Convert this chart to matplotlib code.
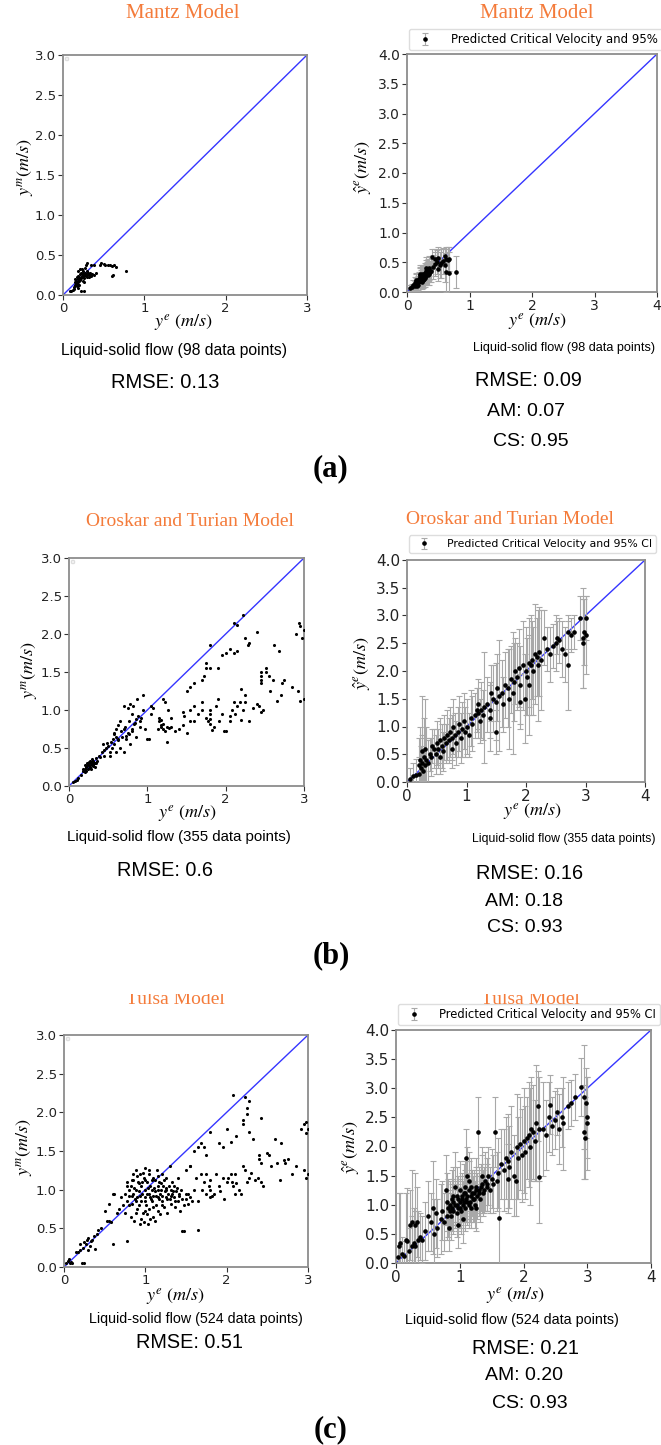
import numpy as np
import matplotlib
matplotlib.use("Agg")
import matplotlib.pyplot as plt
from matplotlib.patches import Rectangle

plt.rcParams["mathtext.fontset"] = "stix"

# ---- (a) Mantz model: measured vs model (98 data points) ----
mantz_meas = [
    (0.08, 0.05), (0.10, 0.05), (0.12, 0.06), (0.22, 0.05), (0.26, 0.05),
    (0.14, 0.10), (0.15, 0.12), (0.16, 0.14), (0.17, 0.15), (0.18, 0.13),
    (0.16, 0.18), (0.15, 0.20), (0.17, 0.22), (0.18, 0.24), (0.19, 0.20),
    (0.20, 0.17), (0.21, 0.19), (0.20, 0.22), (0.22, 0.21), (0.23, 0.24),
    (0.24, 0.22), (0.25, 0.26), (0.26, 0.24), (0.27, 0.27), (0.28, 0.25),
    (0.29, 0.23), (0.30, 0.26), (0.31, 0.28), (0.32, 0.25), (0.33, 0.27),
    (0.34, 0.24), (0.36, 0.26), (0.38, 0.25), (0.40, 0.27), (0.19, 0.30),
    (0.21, 0.32), (0.23, 0.33), (0.25, 0.30), (0.27, 0.34), (0.22, 0.28),
    (0.24, 0.18), (0.26, 0.16), (0.20, 0.12), (0.18, 0.09), (0.28, 0.38),
    (0.30, 0.40), (0.34, 0.37), (0.38, 0.38), (0.45, 0.38), (0.47, 0.40),
    (0.50, 0.39), (0.52, 0.37), (0.55, 0.38), (0.58, 0.37), (0.60, 0.36),
    (0.63, 0.38), (0.65, 0.35), (0.62, 0.25), (0.60, 0.24), (0.78, 0.30),
    (0.15, 0.16), (0.17, 0.11), (0.21, 0.26), (0.29, 0.30), (0.32, 0.22),
    (0.24, 0.27), (0.26, 0.21), (0.19, 0.16), (0.13, 0.08),
]

# ---- (a) Mantz model: predicted with 95% CI (x, y, half-width) ----
mantz_pred = [
    (0.05, 0.06, 0.05), (0.08, 0.08, 0.06), (0.10, 0.12, 0.08), (0.12, 0.10, 0.08),
    (0.13, 0.15, 0.10), (0.15, 0.14, 0.10), (0.15, 0.18, 0.12), (0.17, 0.20, 0.12),
    (0.18, 0.16, 0.10), (0.19, 0.22, 0.12), (0.20, 0.18, 0.12), (0.20, 0.25, 0.15),
    (0.22, 0.20, 0.12), (0.22, 0.27, 0.15), (0.23, 0.23, 0.14), (0.24, 0.30, 0.15),
    (0.25, 0.24, 0.15), (0.26, 0.28, 0.16), (0.27, 0.22, 0.14), (0.28, 0.32, 0.16),
    (0.29, 0.26, 0.15), (0.30, 0.35, 0.18), (0.30, 0.29, 0.16), (0.31, 0.40, 0.18),
    (0.32, 0.33, 0.17), (0.33, 0.28, 0.16), (0.34, 0.37, 0.18), (0.35, 0.30, 0.18),
    (0.36, 0.34, 0.18), (0.38, 0.36, 0.20), (0.40, 0.58, 0.14), (0.42, 0.42, 0.20),
    (0.45, 0.55, 0.17), (0.48, 0.50, 0.20), (0.50, 0.57, 0.18), (0.50, 0.38, 0.20),
    (0.52, 0.46, 0.22), (0.55, 0.48, 0.24), (0.57, 0.52, 0.22), (0.60, 0.60, 0.12),
    (0.60, 0.45, 0.28), (0.62, 0.33, 0.33), (0.63, 0.56, 0.20), (0.65, 0.54, 0.22),
    (0.67, 0.32, 0.35), (0.67, 0.55, 0.20), (0.78, 0.33, 0.27), (0.18, 0.12, 0.09),
    (0.14, 0.20, 0.12), (0.26, 0.20, 0.14), (0.21, 0.30, 0.16), (0.16, 0.10, 0.08),
    (0.24, 0.17, 0.12), (0.28, 0.24, 0.15), (0.35, 0.40, 0.20), (0.44, 0.47, 0.20),
    (0.17, 0.17, 0.10), (0.19, 0.19, 0.11), (0.21, 0.21, 0.12), (0.23, 0.26, 0.14),
    (0.25, 0.21, 0.13), (0.27, 0.30, 0.15), (0.29, 0.28, 0.15), (0.31, 0.31, 0.16),
    (0.33, 0.35, 0.17), (0.20, 0.28, 0.14),
]

# ---- (b) Oroskar and Turian: measured vs model (355 data points) ----
oroskar_meas = [
    (0.05, 0.05), (0.08, 0.07), (0.10, 0.08), (0.12, 0.10), (0.15, 0.15), (0.18, 0.20),
    (0.20, 0.22), (0.22, 0.25), (0.23, 0.30), (0.25, 0.28), (0.26, 0.32), (0.27, 0.25),
    (0.28, 0.30), (0.30, 0.27), (0.31, 0.33), (0.32, 0.30), (0.33, 0.25), (0.35, 0.37),
    (0.20, 0.18), (0.24, 0.22), (0.29, 0.35), (0.34, 0.30), (0.38, 0.40), (0.40, 0.38),
    (0.18, 0.22), (0.21, 0.27), (0.22, 0.20), (0.24, 0.30), (0.26, 0.27), (0.27, 0.33),
    (0.29, 0.28), (0.30, 0.32), (0.33, 0.30), (0.36, 0.33), (0.25, 0.24), (0.28, 0.22),
    (0.23, 0.28), (0.31, 0.26),
    (0.42, 0.45), (0.44, 0.55), (0.45, 0.48), (0.47, 0.50), (0.48, 0.56), (0.50, 0.52),
    (0.52, 0.45), (0.53, 0.58), (0.55, 0.50), (0.56, 0.62), (0.57, 0.55), (0.58, 0.70),
    (0.60, 0.65), (0.60, 0.75), (0.62, 0.60), (0.63, 0.80), (0.65, 0.85), (0.67, 0.72),
    (0.68, 0.65), (0.70, 0.45), (0.70, 0.75), (0.70, 1.05), (0.72, 0.78), (0.73, 0.62),
    (0.75, 0.70), (0.75, 1.02), (0.77, 0.85), (0.78, 0.55), (0.78, 1.08), (0.80, 0.75),
    (0.80, 0.95), (0.82, 1.05), (0.83, 0.82), (0.85, 0.88), (0.85, 0.65), (0.87, 1.15),
    (0.88, 0.92), (0.90, 0.85), (0.92, 0.90), (0.95, 1.00), (0.95, 1.20), (0.97, 0.75),
    (1.00, 0.62), (1.02, 0.62), (1.05, 1.05), (1.07, 1.02), (0.52, 0.40), (0.45, 0.40),
    (0.60, 0.45), (0.65, 0.50), (0.80, 0.72), (0.90, 0.78), (0.58, 0.68), (0.62, 0.62),
    (0.73, 0.66), (0.76, 0.68), (0.84, 0.83),
    (1.15, 0.90), (1.15, 0.85), (1.17, 0.80), (1.18, 0.78), (1.20, 0.82), (1.20, 0.75),
    (1.22, 0.72), (1.25, 0.77), (1.28, 0.76), (1.30, 0.78), (1.25, 0.58), (1.18, 0.87),
    (1.13, 0.75), (1.30, 0.90), (1.20, 1.15), (1.23, 1.10), (1.27, 1.00), (1.05, 0.95),
    (1.35, 0.72), (1.40, 0.75), (1.45, 0.80), (1.45, 0.98), (1.47, 0.92), (1.50, 0.70),
    (1.55, 0.85), (1.55, 1.00), (1.60, 0.85), (1.60, 1.05), (1.65, 0.95), (1.70, 1.00),
    (1.75, 0.90), (1.78, 0.85), (1.80, 0.82), (1.80, 0.88), (1.80, 0.95), (1.80, 1.00),
    (1.82, 0.74), (1.85, 0.78), (1.88, 1.05), (1.90, 1.15), (1.92, 0.85), (1.95, 0.95),
    (1.98, 0.73), (2.00, 0.73), (2.05, 0.92), (2.08, 1.00), (2.10, 1.10), (2.12, 0.95),
    (2.15, 1.05), (2.18, 1.10), (2.20, 1.28), (2.22, 1.00), (2.25, 1.20), (2.25, 1.10),
    (2.30, 0.85), (2.35, 1.02), (2.40, 1.08), (2.45, 0.98), (2.48, 1.00), (2.42, 1.05),
    (2.05, 0.85), (2.20, 0.87), (1.70, 1.10),
    (1.50, 1.25), (1.55, 1.30), (1.60, 1.35), (1.70, 1.40), (1.72, 1.45), (1.75, 1.55),
    (1.75, 1.62), (1.80, 1.55), (1.80, 1.85), (1.90, 1.55), (1.95, 1.72), (2.00, 1.75),
    (2.05, 1.80), (2.10, 1.75), (2.10, 2.15), (2.15, 2.12), (2.15, 1.78), (2.22, 2.25),
    (2.25, 1.95), (2.28, 1.85), (2.30, 1.88), (2.40, 2.03), (2.62, 1.85), (2.68, 1.78),
    (2.90, 2.00), (2.93, 2.15), (2.95, 2.10), (2.97, 1.95), (3.00, 2.05),
    (2.45, 1.35), (2.45, 1.40), (2.45, 1.45), (2.45, 1.50), (2.52, 1.55), (2.52, 1.50),
    (2.55, 1.45), (2.57, 1.25), (2.60, 1.40), (2.65, 1.12), (2.70, 1.20), (2.72, 1.35),
    (2.75, 1.40), (2.85, 1.30), (2.92, 1.25), (2.95, 1.12), (3.00, 1.15),
]

# ---- (b) Oroskar and Turian: predicted with 95% CI ----
oroskar_pred = [
    (0.05, 0.05, 0.20), (0.10, 0.10, 0.25), (0.15, 0.12, 0.30), (0.20, 0.30, 0.50),
    (0.20, 0.15, 0.30), (0.22, 0.40, 0.60), (0.23, 0.25, 0.40), (0.25, 0.35, 0.50),
    (0.25, 0.55, 1.00), (0.27, 0.20, 0.35), (0.28, 0.45, 0.70), (0.30, 0.30, 0.50),
    (0.30, 0.60, 0.90), (0.32, 0.40, 0.60), (0.35, 0.35, 0.40), (0.38, 0.50, 0.30),
    (0.40, 0.45, 0.35), (0.42, 0.65, 0.30), (0.45, 0.60, 0.35), (0.48, 0.50, 0.35),
    (0.50, 0.70, 0.40), (0.52, 0.60, 0.35), (0.55, 0.75, 0.40), (0.58, 0.65, 0.40),
    (0.60, 0.55, 0.35), (0.62, 0.80, 0.40), (0.65, 0.70, 0.35), (0.68, 0.85, 0.45),
    (0.70, 0.75, 0.40), (0.72, 0.90, 0.45), (0.75, 0.80, 0.40), (0.78, 1.00, 0.50),
    (0.80, 0.85, 0.40), (0.82, 0.70, 0.40), (0.85, 0.90, 0.45), (0.88, 1.05, 0.50),
    (0.90, 0.80, 0.45), (0.92, 0.95, 0.50), (0.95, 1.10, 0.50), (0.98, 0.90, 0.45),
    (1.00, 1.00, 0.50), (1.05, 0.85, 0.40), (1.08, 1.15, 0.50), (1.10, 1.05, 0.50),
    (1.15, 1.20, 0.40), (1.18, 1.30, 0.40), (1.20, 1.25, 0.45), (1.22, 1.10, 0.40),
    (1.25, 1.30, 0.50), (1.28, 1.20, 0.45), (1.30, 1.35, 1.00), (1.35, 1.40, 0.50),
    (1.40, 1.30, 0.50), (1.42, 1.60, 0.50), (1.45, 1.50, 0.60), (1.50, 1.45, 0.70),
    (1.52, 1.70, 0.60), (1.55, 1.55, 1.00), (1.60, 1.60, 0.60), (1.62, 1.40, 0.50),
    (1.65, 1.75, 0.60), (1.70, 1.70, 0.70), (1.72, 1.50, 0.90), (1.75, 1.85, 0.60),
    (1.78, 1.60, 1.10), (1.80, 1.80, 0.70), (1.82, 2.00, 0.60), (1.85, 1.90, 0.60),
    (1.88, 2.05, 0.70), (1.90, 1.75, 0.70), (1.95, 2.10, 0.80), (1.98, 1.50, 0.80),
    (2.00, 2.00, 0.80), (2.02, 1.90, 0.70), (2.05, 2.15, 0.80), (2.08, 2.10, 0.90),
    (2.10, 2.20, 0.70), (2.12, 2.00, 0.80), (2.15, 2.30, 0.90), (2.18, 2.25, 0.70),
    (2.20, 2.10, 1.00), (2.22, 2.35, 0.80), (2.25, 2.20, 0.90), (2.30, 2.60, 0.50),
    (2.35, 2.40, 0.40), (2.40, 2.30, 0.50), (2.45, 2.45, 0.40), (2.50, 2.50, 0.50),
    (2.52, 2.60, 0.30), (2.55, 2.55, 0.40), (2.60, 2.40, 0.50), (2.65, 2.30, 0.50),
    (2.70, 2.10, 0.80), (2.70, 2.70, 0.30), (2.75, 2.65, 0.30), (2.80, 2.70, 0.30),
    (2.90, 2.95, 0.40), (2.95, 2.60, 0.90), (2.95, 2.50, 0.80), (2.97, 2.70, 0.60),
    (3.00, 2.95, 0.40), (3.00, 2.65, 0.70), (1.50, 0.90, 0.40), (1.40, 1.15, 0.60),
    (0.75, 0.60, 0.35), (0.55, 0.45, 0.30), (1.20, 1.40, 0.45), (1.90, 1.45, 0.50),
    (2.05, 1.75, 0.90),
]

# ---- (c) Tulsa: measured vs model (524 data points) ----
tulsa_meas = [
    (0.03, 0.05), (0.05, 0.08), (0.06, 0.10), (0.07, 0.05), (0.08, 0.06), (0.10, 0.05),
    (0.15, 0.20), (0.17, 0.20), (0.20, 0.22), (0.22, 0.05), (0.25, 0.05), (0.20, 0.30),
    (0.23, 0.25), (0.25, 0.32), (0.27, 0.30), (0.28, 0.35), (0.30, 0.38), (0.30, 0.22),
    (0.32, 0.27), (0.33, 0.34), (0.35, 0.35), (0.37, 0.40), (0.38, 0.23), (0.40, 0.43),
    (0.42, 0.48), (0.45, 0.50), (0.50, 0.72), (0.53, 0.60), (0.55, 0.60), (0.55, 0.82),
    (0.58, 0.58), (0.60, 0.30), (0.60, 0.95), (0.62, 0.95), (0.65, 0.70), (0.68, 0.75),
    (0.70, 0.90), (0.72, 0.80), (0.75, 0.70), (0.78, 0.33),
    (0.75, 0.95), (0.77, 1.10), (0.78, 0.85), (0.80, 1.00), (0.80, 0.80), (0.82, 1.05),
    (0.82, 0.65), (0.83, 0.92), (0.85, 1.20), (0.85, 0.95), (0.86, 0.60), (0.87, 0.88),
    (0.88, 1.00), (0.88, 1.25), (0.90, 0.90), (0.90, 0.75), (0.91, 1.10), (0.92, 0.98),
    (0.93, 0.55), (0.94, 1.20), (0.95, 0.85), (0.95, 1.05), (0.96, 0.95), (0.97, 0.70),
    (0.98, 1.15), (0.98, 0.58), (1.00, 1.28), (1.00, 0.90), (1.00, 1.00), (1.01, 0.80),
    (1.02, 1.10), (1.03, 0.55), (1.04, 0.95), (1.05, 1.20), (1.05, 0.75), (1.06, 1.05),
    (1.07, 0.88), (1.08, 1.00), (1.10, 0.92), (1.10, 1.15), (1.10, 0.65), (1.12, 0.98),
    (1.13, 0.80), (1.14, 1.25), (1.15, 1.05), (1.15, 0.90), (1.16, 0.72), (1.17, 1.10),
    (1.18, 0.95), (1.19, 1.00), (1.20, 0.85), (1.20, 1.20), (1.21, 0.92), (1.22, 1.05),
    (1.23, 0.78), (1.24, 0.98), (1.25, 0.90), (1.26, 1.02), (1.27, 0.70), (1.28, 0.95),
    (1.30, 1.30), (1.30, 0.88), (1.31, 1.00), (1.32, 0.82), (1.33, 0.95), (1.35, 0.90),
    (1.35, 1.05), (1.37, 0.78), (1.38, 0.98), (1.40, 0.85), (1.40, 1.15), (1.42, 0.92),
    (1.43, 0.72), (1.45, 0.88), (1.45, 0.47), (1.48, 0.47), (1.50, 0.95), (1.52, 0.82),
    (1.55, 0.90), (1.55, 1.30), (1.57, 0.85), (1.00, 0.72), (0.92, 1.08), (1.12, 1.12),
    (1.25, 1.15), (0.84, 0.82), (1.06, 0.62), (1.18, 0.68), (1.33, 1.10), (0.97, 1.22),
    (1.15, 1.00), (1.03, 1.02), (1.08, 0.85),
    (0.78, 1.05), (0.80, 0.92), (0.83, 1.12), (0.86, 1.02), (0.89, 0.85), (0.90, 1.18),
    (0.92, 0.80), (0.94, 0.92), (0.96, 1.10), (0.99, 0.85), (1.00, 1.12), (1.02, 0.95),
    (1.04, 1.25), (1.06, 0.90), (1.08, 1.12), (1.09, 0.78), (1.11, 1.02), (1.13, 0.92),
    (1.15, 1.18), (1.17, 0.88), (1.19, 1.08), (1.21, 0.80), (1.23, 1.12), (1.25, 1.00),
    (1.27, 0.88), (1.29, 1.05), (1.31, 0.92), (1.34, 0.98), (1.36, 0.85), (1.39, 1.02),
    (1.41, 0.95), (1.44, 1.00), (1.47, 0.80), (1.50, 0.88), (1.53, 0.95), (0.88, 0.70),
    (0.95, 0.62), (1.02, 0.68), (0.85, 1.12), (1.12, 0.60),
    (1.60, 1.00), (1.62, 1.15), (1.65, 0.48), (1.65, 0.85), (1.68, 1.20), (1.70, 1.00),
    (1.72, 1.10), (1.75, 0.95), (1.78, 1.05), (1.80, 0.90), (1.80, 1.00), (1.80, 1.12),
    (1.82, 0.92), (1.85, 0.95), (1.87, 1.20), (1.90, 1.05), (1.92, 0.98), (1.95, 1.15),
    (1.97, 0.88), (2.00, 1.10), (2.02, 1.15), (2.05, 1.20), (2.07, 1.10), (2.08, 1.05),
    (2.10, 1.20), (2.12, 1.08), (2.15, 1.00), (2.18, 0.95), (2.20, 1.30), (2.22, 1.25),
    (2.25, 1.10), (2.27, 1.15), (2.30, 1.22), (2.35, 1.12), (2.38, 1.15), (2.42, 1.10),
    (2.45, 1.05), (2.10, 0.95), (1.75, 1.20),
    (1.50, 1.25), (1.55, 1.30), (1.60, 1.50), (1.65, 1.55), (1.68, 1.60), (1.72, 1.55),
    (1.75, 1.45), (1.80, 1.75), (1.90, 1.60), (1.95, 1.55), (2.00, 1.78), (2.05, 1.62),
    (2.08, 2.22), (2.12, 1.70), (2.20, 1.90), (2.20, 1.85), (2.22, 2.20), (2.25, 2.05),
    (2.25, 1.98), (2.28, 2.15), (2.28, 1.75), (2.32, 1.65), (2.42, 1.93), (2.60, 1.65),
    (2.67, 1.60), (2.92, 1.78), (2.95, 1.85), (2.97, 1.88), (2.98, 1.73), (3.00, 1.78),
    (2.40, 1.40), (2.40, 1.45), (2.42, 1.35), (2.50, 1.48), (2.52, 1.45), (2.55, 1.30),
    (2.62, 1.35), (2.65, 1.12), (2.70, 1.38), (2.72, 1.35), (2.75, 1.40), (2.80, 1.20),
    (2.85, 1.30), (2.95, 1.25), (2.97, 1.15), (3.00, 1.20),
]

# ---- (c) Tulsa: predicted with 95% CI ----
tulsa_pred = [
    (0.03, 0.10, 0.20), (0.05, 0.30, 0.90), (0.07, 0.35, 0.85), (0.10, 0.15, 0.30),
    (0.12, 0.12, 0.25), (0.15, 0.40, 0.80), (0.18, 0.38, 0.90), (0.20, 0.20, 0.40),
    (0.22, 0.65, 0.60), (0.25, 0.30, 0.50), (0.25, 0.70, 0.90), (0.28, 0.35, 0.60),
    (0.30, 0.65, 0.90), (0.30, 0.30, 0.60), (0.33, 0.70, 0.60), (0.35, 0.40, 0.50),
    (0.38, 0.45, 0.40), (0.40, 0.40, 0.40), (0.45, 0.55, 0.50), (0.50, 0.80, 0.60),
    (0.55, 0.70, 0.50), (0.58, 0.95, 0.80), (0.60, 0.50, 0.60), (0.62, 0.85, 0.60),
    (0.65, 0.60, 0.50), (0.70, 0.75, 0.60), (0.72, 0.90, 0.50),
    (0.75, 0.70, 0.50), (0.78, 1.25, 0.60), (0.80, 0.80, 0.40), (0.82, 0.95, 0.50),
    (0.83, 0.60, 0.40), (0.85, 1.00, 0.40), (0.87, 0.80, 0.40), (0.88, 1.10, 0.50),
    (0.90, 0.90, 0.40), (0.92, 1.30, 0.60), (0.93, 1.00, 0.40), (0.95, 0.85, 0.40),
    (0.96, 1.15, 0.50), (0.98, 0.95, 0.40), (1.00, 1.05, 0.40), (1.00, 1.25, 0.50),
    (1.02, 0.90, 0.40), (1.04, 1.10, 0.40), (1.05, 1.00, 0.40), (1.07, 1.20, 0.50),
    (1.08, 0.95, 0.40), (1.10, 1.10, 0.40), (1.10, 1.80, 0.50), (1.12, 1.05, 0.40),
    (1.14, 1.25, 0.50), (1.15, 1.00, 0.40), (1.17, 1.15, 0.40), (1.18, 1.30, 0.50),
    (1.20, 1.10, 0.40), (1.22, 1.20, 0.40), (1.24, 1.00, 0.40), (1.25, 1.30, 0.50),
    (1.27, 1.15, 0.40), (1.28, 2.25, 0.60), (1.30, 1.25, 0.40), (1.32, 1.10, 0.40),
    (1.35, 1.35, 0.50), (1.37, 1.20, 0.40), (1.40, 1.40, 0.50), (1.42, 1.30, 0.40),
    (1.45, 1.50, 0.50), (1.47, 1.25, 0.40), (1.50, 1.45, 0.50), (1.52, 1.35, 0.50),
    (1.55, 2.25, 0.60), (1.58, 1.40, 0.50), (1.62, 0.78, 0.80), (0.90, 1.15, 0.50),
    (1.15, 1.40, 0.50), (1.05, 0.75, 0.40), (0.80, 1.05, 0.50), (1.25, 0.95, 0.40),
    (1.35, 1.50, 0.50), (1.12, 1.50, 0.50), (0.97, 0.65, 0.40),
    (0.85, 0.90, 0.35), (0.90, 1.05, 0.40), (0.95, 1.00, 0.40), (1.00, 0.95, 0.35),
    (1.03, 1.15, 0.40), (1.06, 1.05, 0.35), (1.09, 1.20, 0.40), (1.12, 1.15, 0.40),
    (1.16, 1.05, 0.35), (1.19, 1.20, 0.40), (1.23, 1.10, 0.40), (1.26, 1.25, 0.40),
    (1.30, 1.20, 0.40), (1.34, 1.30, 0.40), (1.38, 1.25, 0.40), (1.43, 1.35, 0.45),
    (0.88, 0.95, 0.40), (0.98, 1.10, 0.40), (1.08, 1.30, 0.45), (1.18, 0.95, 0.35),
    (1.60, 1.55, 0.60), (1.65, 1.70, 0.60), (1.70, 1.60, 0.70), (1.72, 1.80, 0.70),
    (1.75, 1.75, 0.80), (1.78, 1.65, 0.70), (1.80, 1.90, 0.80), (1.85, 1.50, 0.70),
    (1.88, 1.40, 0.60), (1.90, 2.00, 0.90), (1.92, 1.80, 0.70), (1.95, 2.05, 0.80),
    (2.00, 2.10, 0.90), (2.02, 1.90, 0.80), (2.05, 2.15, 0.70), (2.08, 2.20, 0.90),
    (2.10, 2.00, 1.00), (2.12, 2.30, 0.90), (2.15, 2.25, 0.80), (2.18, 2.10, 0.70),
    (2.20, 2.40, 1.00), (2.22, 2.70, 0.60), (2.25, 2.30, 0.90), (2.25, 1.48, 0.80),
    (2.30, 2.30, 0.80), (2.35, 2.20, 0.60), (2.40, 2.50, 0.60), (2.42, 2.72, 0.50),
    (2.45, 2.35, 0.50), (2.50, 2.45, 0.50), (2.52, 2.60, 0.40), (2.55, 2.30, 0.60),
    (2.60, 2.50, 0.50), (2.62, 2.40, 0.80), (2.70, 2.70, 0.40), (2.75, 2.75, 0.40),
    (2.80, 2.85, 0.40), (2.90, 3.02, 0.50), (2.95, 2.85, 0.90), (2.95, 2.25, 0.80),
    (2.97, 2.15, 0.70), (3.00, 2.40, 0.80), (3.00, 2.50, 0.70), (2.98, 2.75, 0.60),
    (1.75, 1.45, 0.60), (1.98, 1.85, 0.80),
]

W, H = 661, 1445
ORANGE = "#F47B3A"
BLUE = "#3535ff"
SANS = "Liberation Sans"
SERIF = "Liberation Serif"
LAB_FS = 13


def rect(l, t, r, b):
    return [l / W, 1 - b / H, (r - l) / W, (b - t) / H]


def txt(x, y, s, **kw):
    fig.text(x / W, 1 - y / H, s, ha="center", va="center", **kw)


def style(ax, lim, tick_fs):
    xt = np.arange(0, lim + 0.01, 1)
    yt = np.arange(0, lim + 0.01, 0.5)
    ax.set_xlim(0, lim)
    ax.set_ylim(0, lim)
    ax.set_xticks(xt)
    ax.set_yticks(yt)
    ax.set_xticklabels([f"{v:g}" for v in xt])
    ax.set_yticklabels([f"{v:.1f}" for v in yt])
    ax.tick_params(labelsize=tick_fs, length=3.5, width=0.8, pad=1.5,
                   colors="#333333", labelcolor="#222222")
    for sp in ax.spines.values():
        sp.set_color("#8c8c8c")
        sp.set_linewidth(1.3)
    ax.plot([0, lim], [0, lim], color=BLUE, lw=1.0, zorder=2)


def measured(box, pts, tick_fs):
    ax = fig.add_axes(rect(*box))
    x, y = zip(*pts)
    ax.scatter(x, y, s=5, color="black", zorder=3, linewidths=0)
    style(ax, 3, tick_fs)
    ax.legend(handles=[], loc="upper left", fontsize=3, borderpad=0.3,
              framealpha=1, edgecolor="#dddddd")
    return ax


def predicted(box, pts, tick_fs, leg_xy, leg_fs):
    ax = fig.add_axes(rect(*box))
    x, y, e = zip(*pts)
    ax.errorbar(x, y, yerr=e, fmt="o", ms=2.3, color="black", ecolor="#a8a8a8",
                elinewidth=0.8, capsize=2.2, capthick=0.8, zorder=3,
                label="Predicted Critical Velocity and 95% CI")
    style(ax, 4, tick_fs)
    ax.legend(loc="lower left", bbox_to_anchor=(leg_xy[0] / W, 1 - leg_xy[1] / H),
              bbox_transform=fig.transFigure, borderaxespad=0, fontsize=leg_fs,
              borderpad=0.35, handletextpad=1.2, edgecolor="#dddddd", framealpha=1)
    return ax


fig = plt.figure(figsize=(W / 100, H / 100), dpi=100)
fig.patch.set_facecolor("white")

ylab_m = r"$y^m(m/s)$"
ylab_p = r"$\hat{y}^e(m/s)$"
xlab = r"$y^e\ (m/s)$"

# ---- row (a) ----
measured((63, 55, 307, 295), mantz_meas, 9.5)
predicted((407, 54, 657, 292), mantz_pred, 10, (409, 50), 8.5)
txt(183, 14, "Mantz Model", family=SERIF, fontsize=15, color=ORANGE)
txt(537, 14, "Mantz Model", family=SERIF, fontsize=15, color=ORANGE)
txt(183, 323, xlab, fontsize=LAB_FS)
txt(537, 322, xlab, fontsize=LAB_FS)
txt(26, 167, ylab_m, fontsize=LAB_FS, rotation=90)
txt(363, 167, ylab_p, fontsize=LAB_FS, rotation=90)
txt(174, 350, "Liquid-solid flow (98 data points)", family=SANS, fontsize=11.3)
txt(165, 382, "RMSE: 0.13", family=SANS, fontsize=14.5)
txt(564, 348, "Liquid-solid flow (98 data points)", family=SANS, fontsize=9.1)
txt(528, 380, "RMSE: 0.09", family=SANS, fontsize=14.3)
txt(526, 412, "AM: 0.07", family=SANS, fontsize=14)
txt(531, 442, "CS: 0.95", family=SANS, fontsize=14)
txt(331, 469, "(a)", family=SERIF, fontsize=22, fontweight="bold")

# ---- row (b) ----
measured((69, 558, 304, 786), oroskar_meas, 9.5)
predicted((407, 560, 645, 782), oroskar_pred, 11, (409, 553), 7.8)
txt(190, 522, "Oroskar and Turian Model", family=SERIF, fontsize=14, color=ORANGE)
txt(510, 520, "Oroskar and Turian Model", family=SERIF, fontsize=14, color=ORANGE)
txt(187, 814, xlab, fontsize=LAB_FS)
txt(532, 812, xlab, fontsize=LAB_FS)
txt(30, 670, ylab_m, fontsize=LAB_FS, rotation=90)
txt(362, 663, ylab_p, fontsize=LAB_FS, rotation=90)
txt(179, 837, "Liquid-solid flow (355 data points)", family=SANS, fontsize=10.8)
txt(165, 871, "RMSE: 0.6", family=SANS, fontsize=14.3)
txt(564, 839, "Liquid-solid flow (355 data points)", family=SANS, fontsize=8.8)
txt(530, 873, "RMSE: 0.16", family=SANS, fontsize=14.3)
txt(524, 901, "AM: 0.18", family=SANS, fontsize=14)
txt(525, 928, "CS: 0.93", family=SANS, fontsize=14)
txt(331, 956, "(b)", family=SERIF, fontsize=22, fontweight="bold")

# ---- row (c) ----
measured((64, 1035, 308, 1267), tulsa_meas, 9.5)
predicted((396, 1030, 651, 1263), tulsa_pred, 11, (398, 1025), 8.3)
txt(175, 999, "Tulsa Model", family=SERIF, fontsize=14, color=ORANGE)
txt(530, 999, "Tulsa Model", family=SERIF, fontsize=14, color=ORANGE)
# the source crops the top of the "Tulsa Model" titles
fig.add_artist(Rectangle((0, 1 - 994 / H), 1, 12 / H, transform=fig.transFigure,
                         facecolor="white", edgecolor="none", zorder=5))
txt(175, 1297, xlab, fontsize=LAB_FS)
txt(515, 1296, xlab, fontsize=LAB_FS)
txt(25, 1147, ylab_m, fontsize=LAB_FS, rotation=90)
txt(351, 1147, ylab_p, fontsize=LAB_FS, rotation=90)
txt(196, 1319, "Liquid-solid flow (524 data points)", family=SANS, fontsize=10.3)
txt(190, 1343, "RMSE: 0.51", family=SANS, fontsize=14.3)
txt(512, 1320, "Liquid-solid flow (524 data points)", family=SANS, fontsize=10.3)
txt(525, 1349, "RMSE: 0.21", family=SANS, fontsize=14.3)
txt(524, 1376, "AM: 0.20", family=SANS, fontsize=14)
txt(530, 1403, "CS: 0.93", family=SANS, fontsize=14)
txt(331, 1430, "(c)", family=SERIF, fontsize=22, fontweight="bold")

fig.savefig("out.png", dpi=100)
